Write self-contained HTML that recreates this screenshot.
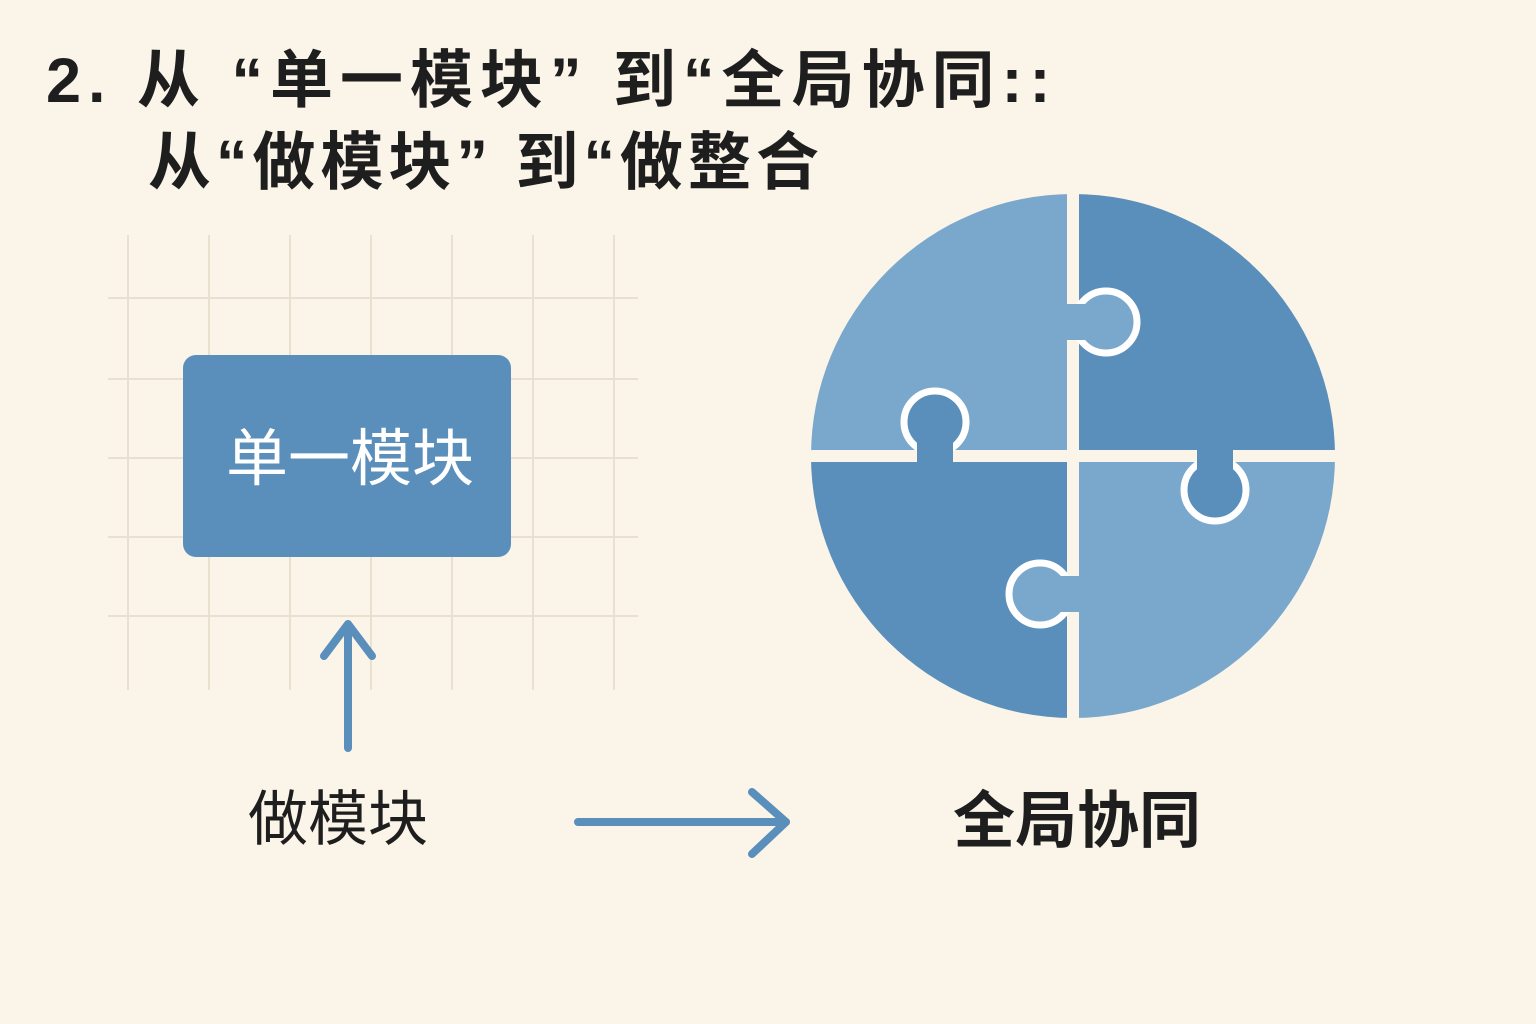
<!DOCTYPE html>
<html><head><meta charset="utf-8"><style>
html,body{margin:0;padding:0;background:#fbf4e8;}
body{width:1536px;height:1024px;position:relative;overflow:hidden;font-family:"Liberation Sans","Noto Sans CJK SC",sans-serif;color:#1e1e1e;}
.t{position:absolute;font-weight:bold;font-size:63px;white-space:nowrap;line-height:1;}
</style></head><body>
<div class="t" style="left:46px;top:50px;letter-spacing:7px;">2. 从 “单一模块” 到“全局协同::</div>
<div class="t" style="left:148px;top:132px;letter-spacing:5px;">从“做模块” 到“做整合</div>
<svg width="1536" height="1024" style="position:absolute;left:0;top:0">
<g stroke="#e9e0d0" stroke-width="2">
<line x1="128" y1="235" x2="128" y2="690"/><line x1="209" y1="235" x2="209" y2="690"/><line x1="290" y1="235" x2="290" y2="690"/><line x1="371" y1="235" x2="371" y2="690"/><line x1="452" y1="235" x2="452" y2="690"/><line x1="533" y1="235" x2="533" y2="690"/><line x1="614" y1="235" x2="614" y2="690"/>
<line x1="108" y1="298" x2="638" y2="298"/><line x1="108" y1="379" x2="638" y2="379"/><line x1="108" y1="458" x2="638" y2="458"/><line x1="108" y1="537" x2="638" y2="537"/><line x1="108" y1="616" x2="638" y2="616"/>
</g>
<rect x="183" y="355" width="328" height="202" rx="13" fill="#5a8fbb"/>
<text x="350" y="480" text-anchor="middle" font-size="62" fill="#fff" font-family="Liberation Sans,Noto Sans CJK SC,sans-serif">单一模块</text>
<g stroke="#5a8fbb" stroke-width="8" fill="none" stroke-linecap="round" stroke-linejoin="round">
<line x1="348" y1="748" x2="348" y2="626"/><polyline points="324,656 348,624 372,656"/>
<line x1="578" y1="822" x2="786" y2="822"/><polyline points="752,792 786,822 752,854"/>
</g>
<text x="338" y="840" text-anchor="middle" font-size="60" fill="#1e1e1e" font-family="Liberation Sans,Noto Sans CJK SC,sans-serif">做模块</text>
<text x="1077" y="842" text-anchor="middle" font-size="62" font-weight="bold" fill="#1e1e1e" font-family="Liberation Sans,Noto Sans CJK SC,sans-serif">全局协同</text>
<defs><clipPath id="c"><circle cx="1073" cy="456" r="262"/></clipPath></defs>
<g clip-path="url(#c)">
<rect x="800" y="180" width="273" height="276" fill="#7aa8cc"/>
<rect x="1073" y="180" width="280" height="276" fill="#5a8fbb"/>
<rect x="800" y="456" width="273" height="280" fill="#5a8fbb"/>
<rect x="1073" y="456" width="280" height="280" fill="#7aa8cc"/>
</g>
<g stroke="#fbf4e8" stroke-width="12">
<line x1="1073" y1="180" x2="1073" y2="740"/><line x1="790" y1="456" x2="1350" y2="456"/>
</g>
<g stroke="#fff" stroke-width="7">
<circle cx="1106" cy="322" r="31" fill="#7aa8cc"/>
<circle cx="935" cy="422" r="31" fill="#5a8fbb"/>
<circle cx="1215" cy="490" r="31" fill="#5a8fbb"/>
<circle cx="1040" cy="594" r="31" fill="#7aa8cc"/>
</g>
<rect x="1064" y="304" width="24" height="36" fill="#7aa8cc"/>
<rect x="917" y="438" width="36" height="26" fill="#5a8fbb"/>
<rect x="1197" y="448" width="36" height="26" fill="#5a8fbb"/>
<rect x="1058" y="576" width="24" height="36" fill="#7aa8cc"/>
</svg>
</body></html>
